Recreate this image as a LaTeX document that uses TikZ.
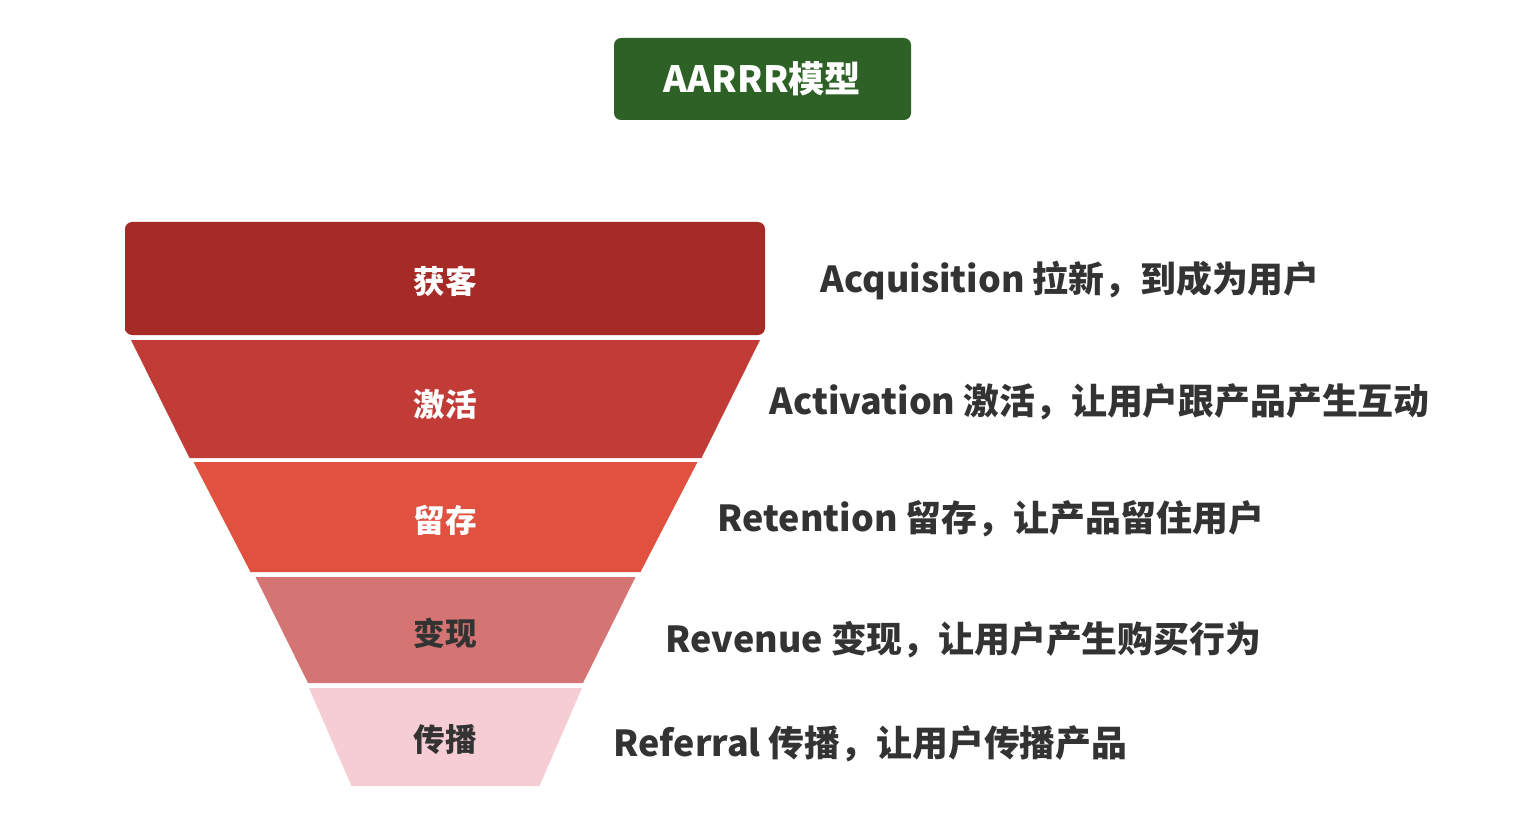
\documentclass[tikz,border=0pt]{standalone}
\usepackage{fontspec}
\usepackage{tkz-euclide}
\setmainfont{Noto Sans CJK SC}
\definecolor{titlegreen}{HTML}{2E6126}
\definecolor{layA}{HTML}{A62A26}
\definecolor{layB}{HTML}{C13C37}
\definecolor{layC}{HTML}{E05140}
\definecolor{layD}{HTML}{D57573}
\definecolor{layE}{HTML}{F6CDD4}
\definecolor{txtgray}{HTML}{333333}
\tikzset{>=stealth}
\tikzset{
  lay/.style = {font=\bfseries\fontsize{9}{9}\selectfont, text=white},
  laydark/.style = {font=\bfseries\fontsize{9}{9}\selectfont, text=txtgray},
  desc/.style = {anchor=west, inner sep=0pt, font=\bfseries\fontsize{10.2}{10.2}\selectfont, text=txtgray}
}

\begin{document}
\begin{tikzpicture}
\useasboundingbox[fill=white] (0,0) rectangle (15.18,8.22);
% title
\node[fill=titlegreen, rounded corners=2pt, minimum width=2.97cm, minimum height=0.82cm,
  text=white, font=\bfseries\fontsize{10.3}{10.3}\selectfont] (title) at (7.625,7.43) {AARRR模型};
% funnel
\tkzDefPoints{1.25/4.87/A1, 7.65/4.87/B1, 7.65/6.00/C1, 1.25/6.00/D1}
\tkzDefPoints{1.895/3.64/A2, 7.015/3.64/B2, 7.60/4.82/C2, 1.31/4.82/D2}
\tkzDefPoints{2.505/2.50/A3, 6.405/2.50/B3, 6.975/3.60/C3, 1.935/3.60/D3}
\tkzDefPoints{3.08/1.39/A4, 5.83/1.39/B4, 6.355/2.45/C4, 2.555/2.45/D4}
\tkzDefPoints{3.515/0.36/A5, 5.395/0.36/B5, 5.82/1.34/C5, 3.09/1.34/D5}
\tkzDrawPolygon[draw=none, fill=layA, rounded corners=2pt](A1,B1,C1,D1)
\tkzDrawPolygon[draw=none, fill=layB](A2,B2,C2,D2)
\tkzDrawPolygon[draw=none, fill=layC](A3,B3,C3,D3)
\tkzDrawPolygon[draw=none, fill=layD](A4,B4,C4,D4)
\tkzDrawPolygon[draw=none, fill=layE](A5,B5,C5,D5)
\node[lay] (acq) at (4.455,5.41) {获客};
\node[lay] (act) at (4.455,4.18) {激活};
\node[lay] (ret) at (4.455,3.02) {留存};
\node[laydark] (rev) at (4.455,1.89) {变现};
\node[laydark] (ref) at (4.455,0.82) {传播};
% descriptions
\node[desc] (acqtxt) at (8.20,5.41) {Acquisition 拉新，到成为用户};
\node[desc] (acttxt) at (7.69,4.20) {Activation 激活，让用户跟产品产生互动};
\node[desc] (rettxt) at (7.17,3.03) {Retention 留存，让产品留住用户};
\node[desc] (revtxt) at (6.65,1.82) {Revenue 变现，让用户产生购买行为};
\node[desc] (reftxt) at (6.13,0.78) {Referral 传播，让用户传播产品};
\end{tikzpicture}
\end{document}
